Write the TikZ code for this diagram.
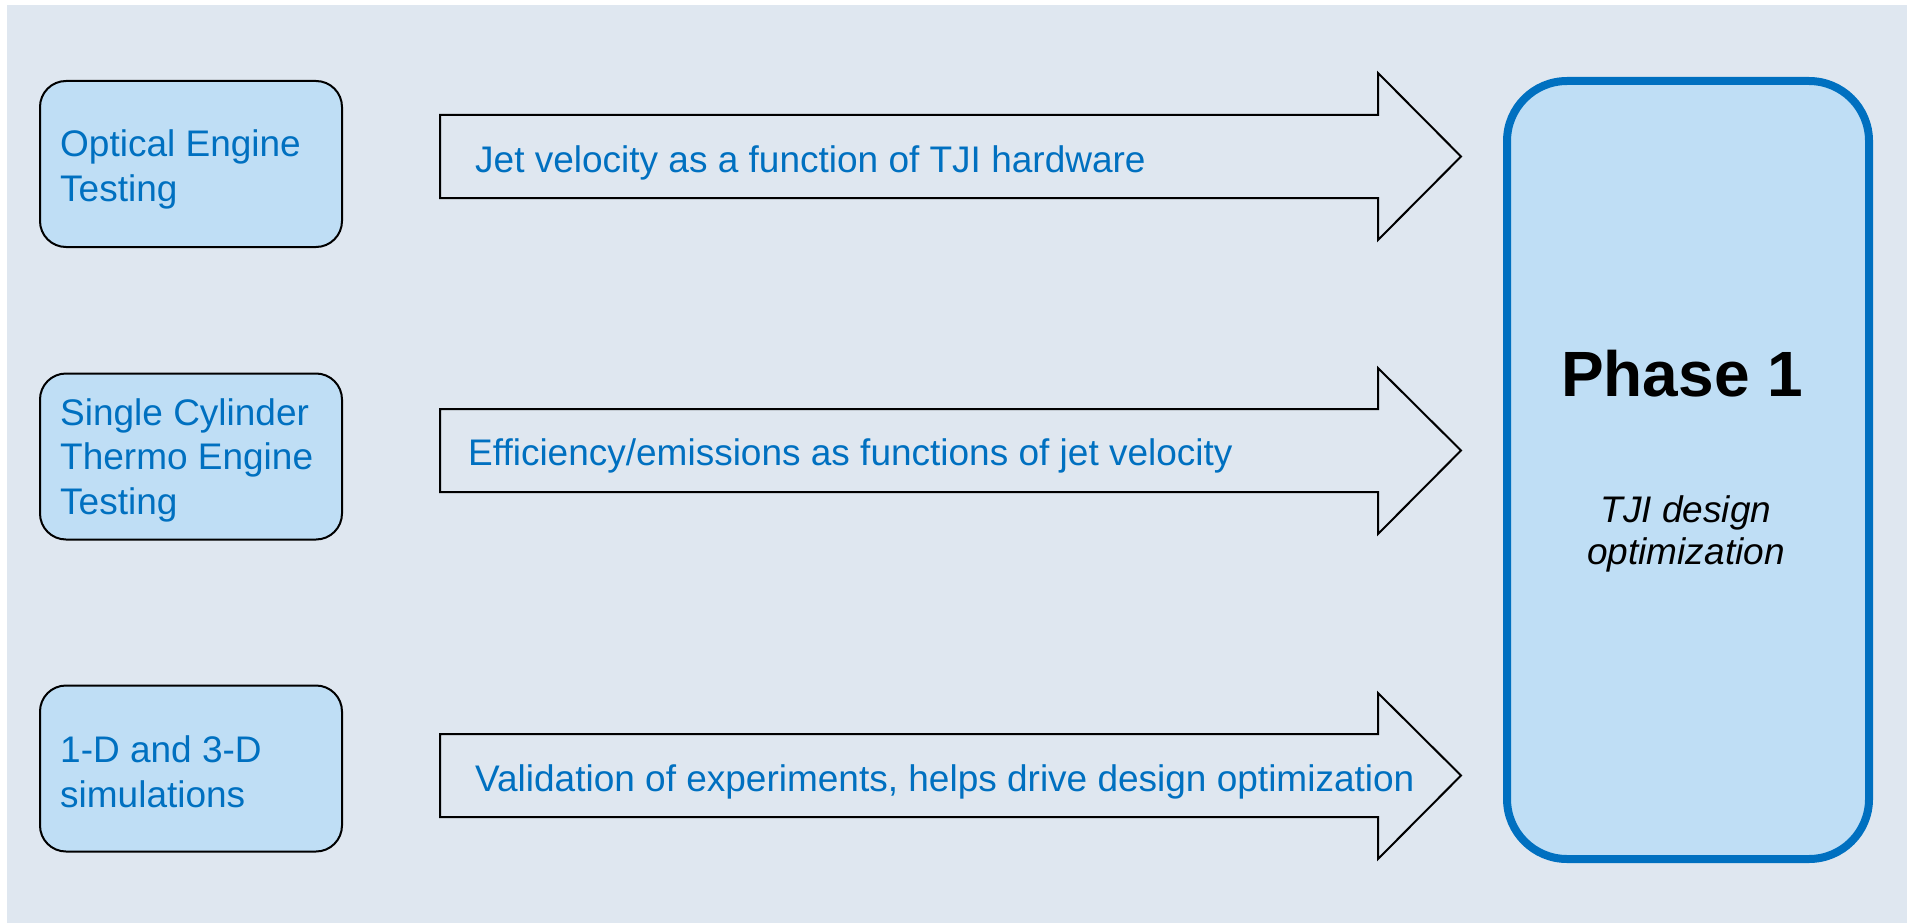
\documentclass[tikz,border=0pt]{standalone}
\usepackage{fontspec}
\setmainfont{Liberation Sans}
\definecolor{bgpanel}{RGB}{223,231,240}
\definecolor{boxfill}{RGB}{191,222,245}
\definecolor{tblue}{RGB}{0,112,192}
\tikzset{
  srcbox/.style={draw=black, line width=2pt, fill=boxfill, rounded corners=26pt,
    minimum width=302pt, minimum height=166pt, inner sep=0pt},
  srctext/.style={anchor=base west, inner sep=0pt, align=left, text=tblue,
    font=\fontsize{37}{44.5}\selectfont},
  blockarrow/.style={draw=black, line width=2pt, line join=miter},
  arrowtext/.style={anchor=base west, inner sep=0pt, text=tblue,
    font=\fontsize{37}{44.5}\selectfont},
  phasebox/.style={draw=tblue, line width=8pt, fill=boxfill, rounded corners=60pt,
    minimum width=362pt, minimum height=778pt, inner sep=0pt}
}
\begin{document}
\begin{tikzpicture}[x=1pt,y=-1pt]
\useasboundingbox (0,0) rectangle (1916,923);
\fill[white] (0,0) rectangle (1916,923);
\fill[bgpanel] (7,5) rectangle (1907,923);

% source boxes
\node[srcbox] (b1) at (191,164) {};
\node[srcbox] (b2) at (191,456.5) {};
\node[srcbox] (b3) at (191,768.5) {};
% multi-line nodes: base anchor sits on the last line
\node[srctext] (t1) at (60,201) {Optical Engine\\Testing};
\node[srctext] (t2) at (60,514) {Single Cylinder\\Thermo Engine\\Testing};
\node[srctext] (t3) at (60,807) {1-D and 3-D\\simulations};

% phase box
\node[phasebox] (ph) at (1688,470) {};
\node[anchor=base, inner sep=0pt, font=\fontsize{64}{70}\selectfont\bfseries] (phtitle) at (1682,396) {Phase 1};
\node[anchor=base, inner sep=0pt, align=center, font=\fontsize{37}{42}\selectfont\itshape] (phsub) at (1686,564) {TJI design\\optimization};

% block arrows
\draw[blockarrow] (440,115) -- (1378,115) -- (1378,73) -- (1461,156.5) -- (1378,240) -- (1378,198) -- (440,198) -- cycle;
\draw[blockarrow] (440,409) -- (1378,409) -- (1378,368) -- (1461,450.5) -- (1378,534) -- (1378,492) -- (440,492) -- cycle;
\draw[blockarrow] (440,734) -- (1378,734) -- (1378,693) -- (1461,775.5) -- (1378,859) -- (1378,817) -- (440,817) -- cycle;
\node[arrowtext] (a1) at (475,172) {Jet velocity as a function of TJI hardware};
\node[arrowtext] (a2) at (468,465) {Efficiency/emissions as functions of jet velocity};
\node[arrowtext] (a3) at (475,791) {Validation of experiments, helps drive design optimization};
\end{tikzpicture}
\end{document}
